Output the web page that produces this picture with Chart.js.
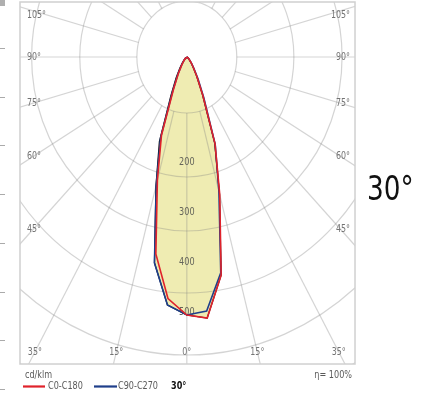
<!DOCTYPE html>
<html><head><meta charset="utf-8">
<script src="https://cdn.jsdelivr.net/npm/chart.js@4.4.0/dist/chart.umd.min.js"></script>
<style>html,body{margin:0;padding:0;background:#fff;}canvas{display:block;}</style>
</head><body>
<canvas id="c" width="430" height="398"></canvas>
<script>
// ---- data (angle from nadir in degrees, intensity in cd/klm) ----
const angles  = [-90,-80,-70,-60,-50,-40,-35,-30,-25,-20,-15,-10,-5,0,5,10,15,20,25,30,35,40,50,60,70,80,90];
const c0c180  = [0,0,1,2,5,12,20,38,70,166,255,400,485,516,524,443,285,185,85,45,25,15,6,3,1,0,0];
const c90c270 = [0,0,1,2,5,13,22,40,75,172,265,418,498,516,510,438,278,186,90,50,27,16,6,3,1,0,0];
const outline = [0,0,1,3,7,17,28,48,84,180,268,418,498,516,524,443,283,182,82,43,24,14,6,3,1,0,0];
const seriesNames = ['C0-C180','C90-C270'];
const gridRadii = [112,240,348,472,596,718];
const intensityTicks = [200,300,400,500];
const sideAngles = [45,60,75,90,105];
const bottomAngles = [-30,-15,0,15,30];
const bottomLabels = ['35°','15°','0°','15°','35°'];
const unitLabel = 'cd/klm';
const effLabel = 'η= 100%';
const beamLabel = '30°';

const RAD = Math.PI/180;
const toXY = (arr) => angles.map((a,i)=>({x: arr[i]*Math.sin(a*RAD), y: -arr[i]*Math.cos(a*RAD)}));
const FONT = '"Liberation Sans Narrow","DejaVu Sans Condensed","Roboto",sans-serif';
const RED = '#e0222b', BLUE = '#1f3f8a';

function narrowText(ctx, txt, x, y, sx) {
  ctx.save(); ctx.translate(x, y); ctx.scale(sx, 1); ctx.fillText(txt, 0, 0); ctx.restore();
}

const polarPlugin = {
  id: 'polarGrid',
  beforeDatasetsDraw(chart) {
    const {ctx, chartArea: ca, scales:{x, y}} = chart;
    const cx = x.getPixelForValue(0), cy = y.getPixelForValue(0);
    const pts = chart.getDatasetMeta(2).data;
    ctx.save();
    ctx.beginPath();
    pts.forEach((p,i)=> i ? ctx.lineTo(p.x,p.y) : ctx.moveTo(p.x,p.y));
    ctx.closePath();
    ctx.fillStyle = 'rgb(239,236,178)';
    ctx.fill();
    ctx.restore();
    ctx.save();
    ctx.beginPath(); ctx.rect(ca.left, ca.top, ca.right-ca.left, ca.bottom-ca.top); ctx.clip();
    ctx.strokeStyle = 'rgba(128,128,128,0.34)';
    ctx.lineWidth = 1.2;
    gridRadii.forEach(r=>{
      const rx = x.getPixelForValue(r)-cx, ry = y.getPixelForValue(-r)-cy;
      ctx.beginPath(); ctx.ellipse(cx,cy,rx,ry,0,0,Math.PI*2); ctx.stroke();
    });
    const r0 = gridRadii[0];
    for (let a=0; a<360; a+=15) {
      const s = Math.sin(a*RAD), c = -Math.cos(a*RAD);
      ctx.beginPath();
      ctx.moveTo(x.getPixelForValue(r0*s), y.getPixelForValue(r0*c));
      ctx.lineTo(x.getPixelForValue(3000*s), y.getPixelForValue(3000*c));
      ctx.stroke();
    }
    ctx.restore();
    ctx.save();
    ctx.strokeStyle = 'rgb(208,208,208)'; ctx.lineWidth = 1.5;
    ctx.strokeRect(ca.left, ca.top, ca.right-ca.left, ca.bottom-ca.top);
    ctx.restore();
    ctx.save();
    ctx.font = '10px '+FONT; ctx.fillStyle = 'rgb(100,100,90)';
    ctx.textAlign = 'center'; ctx.textBaseline = 'middle';
    intensityTicks.forEach(v=> narrowText(ctx, String(v), cx, y.getPixelForValue(-v)+5, 0.9));
    ctx.fillStyle = 'rgb(115,115,115)';
    const xl = ca.left+13;
    sideAngles.forEach(a=>{
      const s = Math.sin(a*RAD), c = -Math.cos(a*RAD);
      const vl = x.getValueForPixel(xl);
      let yl = y.getPixelForValue((-vl/s)*c);
      if (a > 90) yl += 5;
      ctx.textAlign = 'left'; narrowText(ctx, a+'°', ca.left+7, yl, 0.88);
      ctx.textAlign = 'right'; narrowText(ctx, a+'°', ca.right-5, yl, 0.88);
    });
    const yb = ca.bottom-12, vb = y.getValueForPixel(yb);
    bottomAngles.forEach((a,i)=>{
      const t = -vb/Math.cos(a*RAD);
      ctx.textAlign = 'center';
      narrowText(ctx, bottomLabels[i], x.getPixelForValue(t*Math.sin(a*RAD)), yb, 0.88);
    });
    ctx.restore();
  },
  afterDraw(chart) {
    const {ctx, chartArea: ca} = chart;
    ctx.save();
    ctx.fillStyle = 'rgb(175,175,175)'; ctx.fillRect(0,0,5,6);
    ctx.strokeStyle = 'rgb(170,170,170)'; ctx.lineWidth = 1;
    for (let k=0;k<8;k++){ const yy = Math.round(48+48.7*k)+0.5; ctx.beginPath(); ctx.moveTo(0,yy); ctx.lineTo(5,yy); ctx.stroke(); }
    ctx.fillStyle = '#111'; ctx.font = '34px '+FONT; ctx.textAlign='left'; ctx.textBaseline='alphabetic';
    narrowText(ctx, beamLabel, 367, 200, 0.86);
    ctx.font = '10px '+FONT; ctx.fillStyle = 'rgb(90,90,90)'; ctx.textBaseline='middle';
    narrowText(ctx, unitLabel, ca.left+5, 375, 0.9);
    ctx.textAlign='right'; narrowText(ctx, effLabel, ca.right-3, 375, 0.9);
    ctx.textAlign='left';
    const ly = 386.5;
    ctx.lineWidth = 2.2;
    ctx.strokeStyle = RED; ctx.beginPath(); ctx.moveTo(23,ly); ctx.lineTo(45,ly); ctx.stroke();
    ctx.fillStyle = 'rgb(90,90,90)'; narrowText(ctx, seriesNames[0], 48, ly, 0.9);
    ctx.strokeStyle = BLUE; ctx.beginPath(); ctx.moveTo(94,ly); ctx.lineTo(117,ly); ctx.stroke();
    narrowText(ctx, seriesNames[1], 118, ly, 0.9);
    ctx.fillStyle = '#111'; ctx.font = 'bold 10px '+FONT; narrowText(ctx, beamLabel, 171, ly, 0.9);
    ctx.restore();
  }
};

new Chart(document.getElementById('c'), {
  type: 'scatter',
  data: { datasets: [
    { label: seriesNames[0], data: toXY(c0c180), showLine: true, borderColor: RED, borderWidth: 1.6, pointRadius: 0, fill: false, tension: 0, order: 0 },
    { label: seriesNames[1], data: toXY(c90c270), showLine: true, borderColor: BLUE, borderWidth: 1.6, pointRadius: 0, fill: false, tension: 0, order: 1 },
    { label: 'outline', data: toXY(outline), showLine: true, borderColor: '#111', borderWidth: 1.2, pointRadius: 0, fill: false, tension: 0, order: 3 }
  ]},
  plugins: [polarPlugin],
  options: {
    responsive: false, animation: false,
    layout: { padding: { left: 20, top: 2, right: 75, bottom: 34 } },
    scales: {
      x: { type: 'linear', min: -374, max: 377, display: false },
      y: { type: 'linear', min: -614, max: 110, display: false }
    },
    plugins: { legend: { display: false }, tooltip: { enabled: false } }
  }
});
</script>
</body></html>
